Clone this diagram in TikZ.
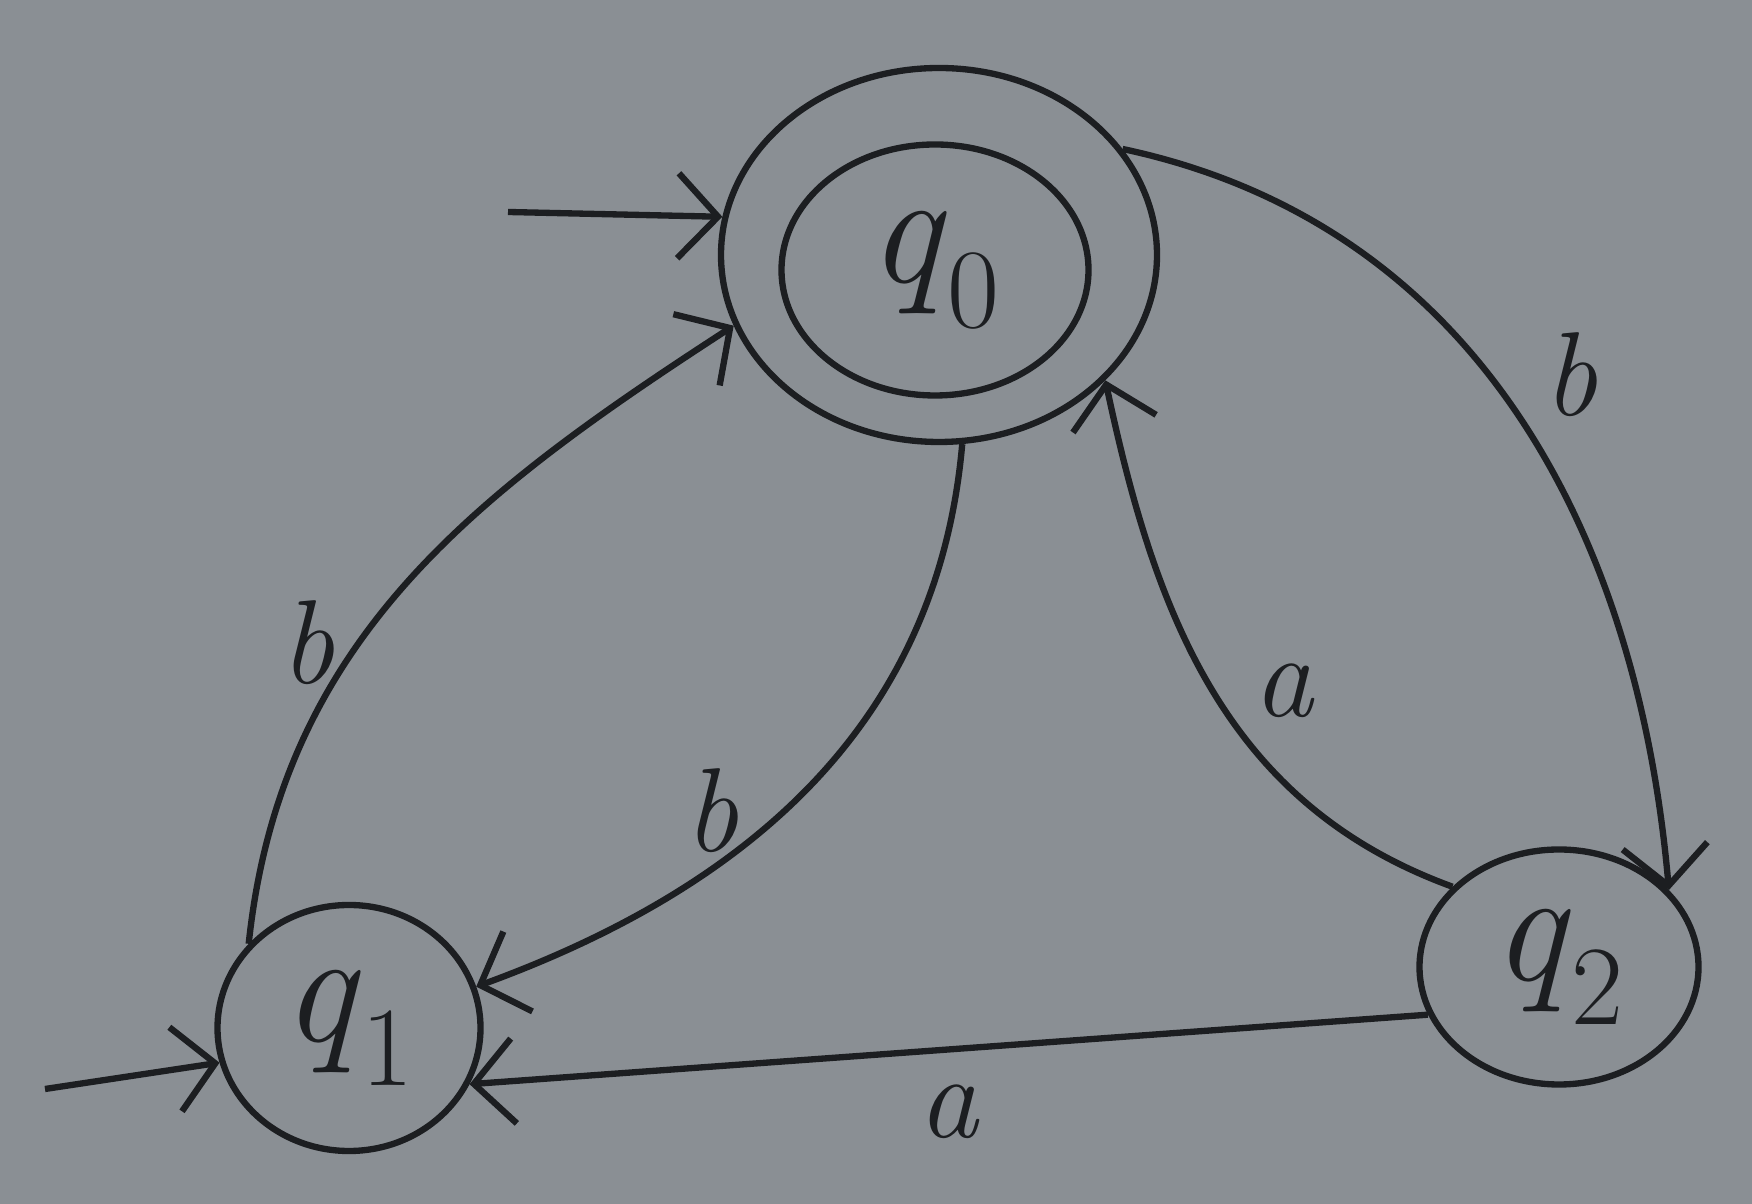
\documentclass[tikz,border=0pt]{standalone}
\usetikzlibrary{arrows.meta,positioning,shapes.geometric}
\definecolor{paper}{RGB}{138,143,148}
\definecolor{ink}{RGB}{28,30,33}
\newcommand{\stname}[1]{\textit{q}\textsubscript{#1}}
\tikzset{
  state/.style={
    shape = ellipse,
    draw = ink,
    text = ink,
    line width = 1.8pt,
    inner sep = 0pt,
    font = \fontsize{46}{54}\selectfont
  },
  edge/.style={
    draw = ink,
    line width = 1.8pt,
    -{Straight Barb[length=4mm,width=8.5mm]}
  },
  sym/.style={
    text = ink,
    inner sep = 2pt,
    font = \fontsize{34}{40}\selectfont\itshape
  },
}
\begin{document}
\begin{tikzpicture}
\fill[paper] (0,0) rectangle (17.52,12.04);
\useasboundingbox (0,0) rectangle (17.52,12.04);
% states
\node[state,minimum width=4.36cm,minimum height=3.74cm] (q0) at (9.39,9.49) {};
\node[state,minimum width=3.07cm,minimum height=2.51cm] (q0in) at (9.35,9.34) {\stname{0}};
\node[state,minimum width=2.63cm,minimum height=2.46cm] (q1) at (3.49,1.76) {\stname{1}};
\node[state,minimum width=2.79cm,minimum height=2.35cm] (q2) at (15.59,2.37) {\stname{2}};
\coordinate (s0) at (5.08,9.92);
\coordinate (s1) at (0.45,1.15);
% start arrows
\draw[edge] (s0) -- (q0.170);
\draw[edge] (s1) -- (q1.195);
% transitions
\draw[edge] (q1.140) to[out=84,in=213] node[sym,pos=0.4,left=0.15cm] (l10) {b} (q0.199);
\draw[edge] (q0.-83) to[out=-95,in=20] node[sym,pos=0.55,left=0.35cm] (l01) {b} (q1.18);
\draw[edge] (q2.143) to[out=160,in=-78] node[sym,pos=0.5,right=0.3cm] (l20) {a} (q0.-37);
\draw[edge] (q0.30) to[out=-12,in=95] node[sym,pos=0.45,right=0.45cm] (l02) {b} (q2.35);
\draw[edge] (q2.200) -- node[sym,below=0.25cm] (l21) {a} (q1.-25);
\end{tikzpicture}
\end{document}
